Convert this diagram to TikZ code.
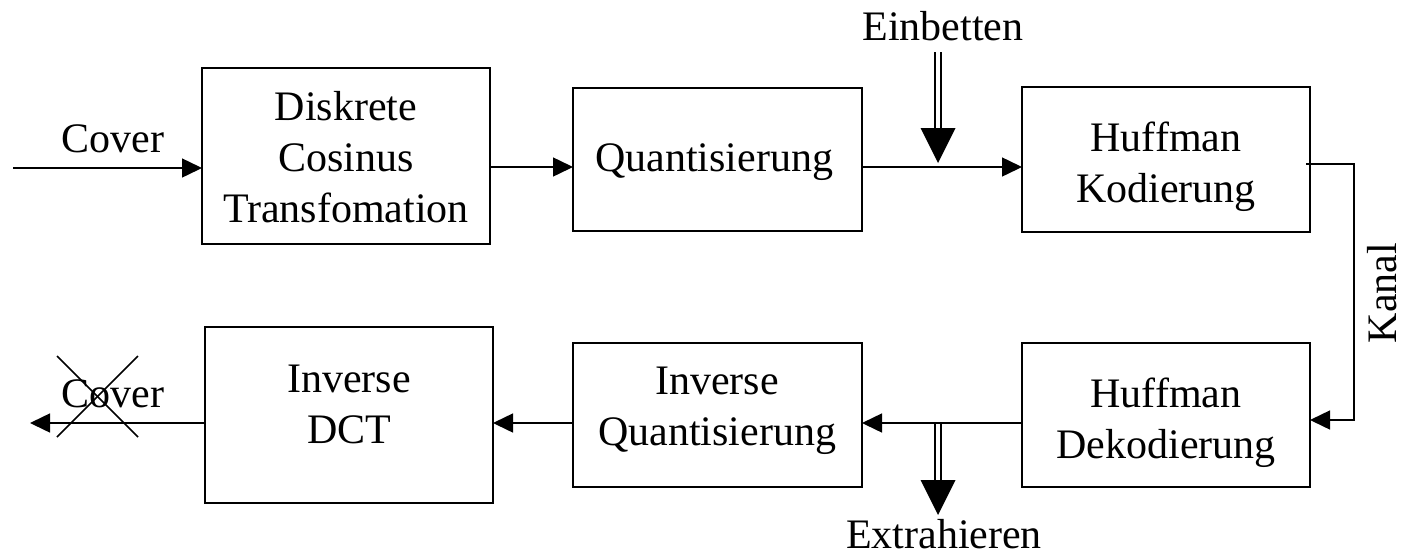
\documentclass[tikz,border=0pt]{standalone}
\usepackage{fontspec}
\setmainfont{Liberation Serif}
\usetikzlibrary{arrows.meta,calc}
\begin{document}
\begin{tikzpicture}[x=1pt,y=1pt,
  every node/.style={font=\fontsize{42}{51}\selectfont, inner sep=0pt, outer sep=0pt},
  blk/.style={draw, line width=1.8pt, rectangle, minimum width=#1},
  blk/.default=288pt,
  lbl/.style={anchor=base},
  arr/.style={line width=1.5pt, -{Triangle[length=20pt,width=19pt]}},
  dbl/.style={draw, line width=1.5pt, double, double distance=4.5pt},
  tipfill/.style={fill=black}]
\useasboundingbox (0,0) rectangle (1403,-555);

% boxes
\node[blk, minimum height=176pt] (box1) at (346,-156) {};
\node[blk=289pt, minimum height=143pt] (box2) at (717.5,-159.5) {};
\node[blk, minimum height=145pt] (box3) at (1166,-159.5) {};
\node[blk, minimum height=176pt] (box4) at (349,-415) {};
\node[blk=289pt, minimum height=144pt] (box5) at (717.5,-415) {};
\node[blk, minimum height=144pt] (box6) at (1166,-415) {};

% box texts
\node[lbl] (t1) at (346,-120) {\begin{tabular}[t]{@{}c@{}}Diskrete\\Cosinus\\Transfomation\end{tabular}};
\node[lbl] (t2) at (714,-171) {Quantisierung};
\node[lbl] (t3) at (1166,-151) {\begin{tabular}[t]{@{}c@{}}Huffman\\Kodierung\end{tabular}};
\node[lbl] (t4) at (349,-392) {\begin{tabular}[t]{@{}c@{}}Inverse\\DCT\end{tabular}};
\node[lbl] (t5) at (717,-394) {\begin{tabular}[t]{@{}c@{}}Inverse\\Quantisierung\end{tabular}};
\node[lbl] (t6) at (1166,-407) {\begin{tabular}[t]{@{}c@{}}Huffman\\Dekodierung\end{tabular}};

% outer labels
\node[lbl] (cov1) at (113,-152) {Cover};
\node[lbl] (cov2) at (113,-407) {Cover};
\node[lbl] (emb) at (943,-40) {Einbetten};
\node[lbl, text depth=0pt] (ext) at (944,-548) {Extrahieren};
\node[lbl, rotate=90, text depth=0pt] (kan) at (1396,-293) {Kanal};

% rows
\coordinate (r1) at (0,-167);
\coordinate (r2) at (0,-423);

% double arrows (drawn first)
\coordinate (e1) at (938,-52);
\coordinate (e2) at (938,-128);
\coordinate (e3) at (938,-163);
\draw[dbl] (e1) -- (e2);
\fill[tipfill] ($(e2)+(-17.5,0)$) -- ($(e2)+(17.5,0)$) -- (e3) -- cycle;

\coordinate (x1) at (938,-423);
\coordinate (x2) at (938,-480);
\coordinate (x3) at (938,-515);
\draw[dbl] (x1) -- (x2);
\fill[tipfill] ($(x2)+(-17.5,0)$) -- ($(x2)+(17.5,0)$) -- (x3) -- cycle;

% connectors
\coordinate (cin) at (13,-168);
\draw[arr] (cin) -- (box1.west |- cin);
\draw[arr] (box1.east |- r1) -- (box2.west |- r1);
\draw[arr] (box2.east |- r1) -- (box3.west |- r1);

\coordinate (k1) at (1306,-164);
\coordinate (k2) at (1354,-420);
\draw[arr] (k1) -| (k2) -- (box6.east |- k2);

\draw[arr] (box6.west |- r2) -- (box5.east |- r2);
\draw[arr] (box5.west |- r2) -- (box4.east |- r2);
\coordinate (cout) at (30,-423);
\draw[arr] (box4.west |- cout) -- (cout);

% cross over Cover
\coordinate (c1) at (57,-356);
\coordinate (c2) at (138,-437);
\coordinate (c3) at (57,-437);
\coordinate (c4) at (138,-356);
\draw[line width=1.5pt] (c1) -- (c2);
\draw[line width=1.5pt] (c3) -- (c4);
\end{tikzpicture}
\end{document}
